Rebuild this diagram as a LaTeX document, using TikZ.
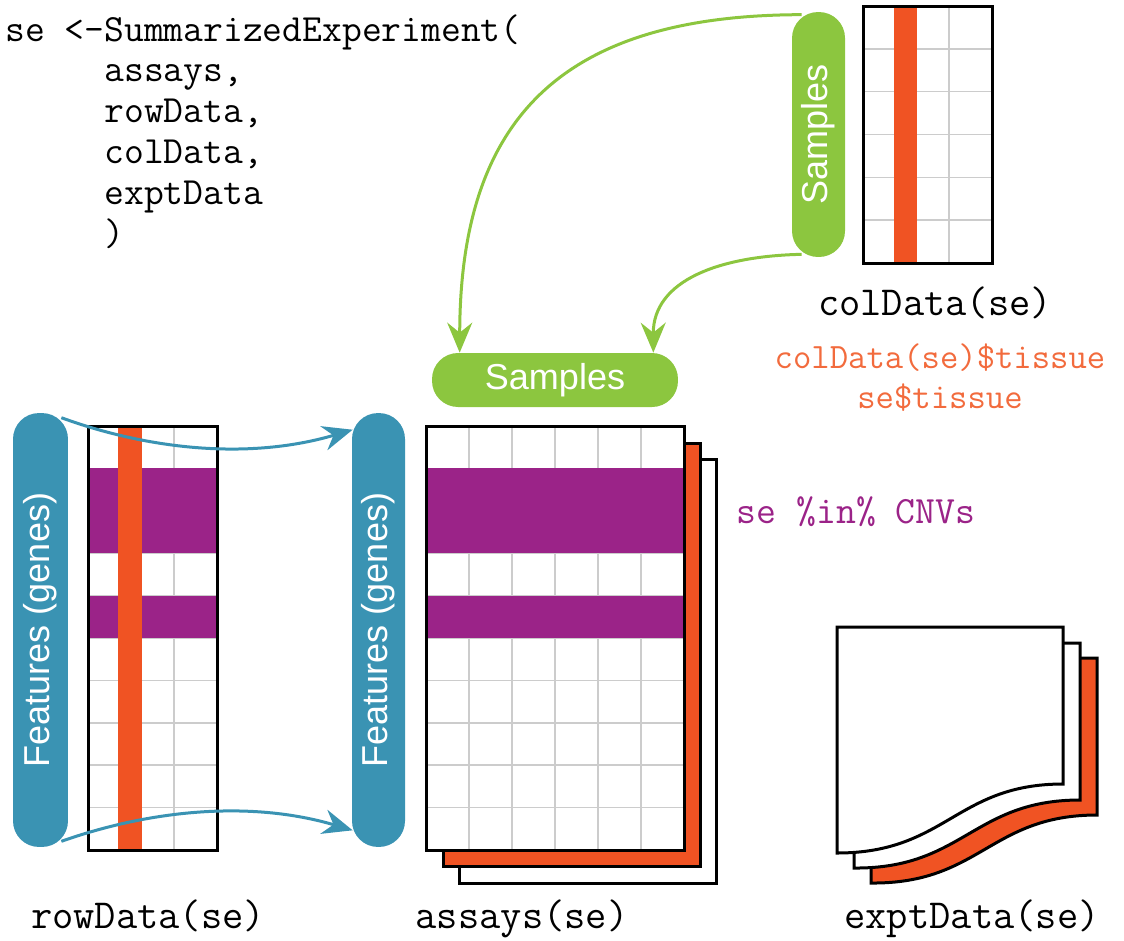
\documentclass[tikz,border=0pt]{standalone}
\usepackage{fontspec}
\setmainfont{Liberation Sans}
\setsansfont{Liberation Sans}
\usepackage{tikz}
\usetikzlibrary{arrows.meta, calc}
\usepackage{xcolor}

\definecolor{pillgreen}{HTML}{8CC63F}
\definecolor{featblue}{HTML}{3A93B3}
\definecolor{tissueorange}{HTML}{F05323}
\definecolor{tissuetext}{HTML}{F26B3D}
\definecolor{cnvpurple}{HTML}{9B2388}
\definecolor{gridgrey}{HTML}{CCCCCC}

\pgfdeclarelayer{front}
\pgfsetlayers{main,front}

\begin{document}
\begin{tikzpicture}[
    x=0.02cm, y=-0.02cm,
    >={Stealth[length=0.6cm, width=0.5cm, inset=0.2cm]},
    gridline/.style={draw=gridgrey, line width=0.03cm},
    boxline/.style={draw=black, line width=0.06cm},
    pill/.style={rounded corners=0.52cm, inner sep=0pt, text=white,
        font=\fontsize{20.5}{24}\selectfont\sffamily},
    codetext/.style={inner sep=0pt, font=\fontsize{21.9}{23.3}\selectfont\ttfamily},
    label/.style={inner sep=0pt, font=\fontsize{23.5}{26}\selectfont\ttfamily},
    link/.style={->, line width=0.06cm}
]
\useasboundingbox (0,0) rectangle (1124,940);

% the constructor call
\node[codetext, anchor=north west, align=left] (call) at (5,14)
    {se <-SummarizedExperiment(\\
     \phantom{se <-}assays,\\
     \phantom{se <-}rowData,\\
     \phantom{se <-}colData,\\
     \phantom{se <-}exptData\\
     \phantom{se <-})};

% colData
\fill[white] (863,6) rectangle (992,263);
\foreach \r in {1,...,5}
    \draw[gridline] (863,{6+\r*42.83}) -- (992,{6+\r*42.83});
\foreach \c in {1,2}
    \draw[gridline] ({863+\c*43},6) -- ({863+\c*43},263);
\fill[tissueorange] (894,6) rectangle (917,263);
\draw[boxline] (863,6) rectangle (992,263);

% rowData
\fill[white] (88,426) rectangle (217,850);
\foreach \r in {1,...,9}
    \draw[gridline] (88,{426+\r*42.4}) -- (217,{426+\r*42.4});
\foreach \c in {1,2}
    \draw[gridline] ({88+\c*43},426) -- ({88+\c*43},850);
\fill[cnvpurple] (88,468.4) rectangle (217,553.2);
\fill[cnvpurple] (88,595.6) rectangle (217,638);
\fill[tissueorange] (118,426) rectangle (142,850);
\draw[boxline] (88,426) rectangle (217,850);

% assays, three sheets
\draw[boxline, fill=white] (459,459) rectangle (716,883);
\draw[boxline, fill=tissueorange] (443,443) rectangle (700,866);
\fill[white] (426,426) rectangle (684,850);
\foreach \r in {1,...,9}
    \draw[gridline] (426,{426+\r*42.4}) -- (684,{426+\r*42.4});
\foreach \c in {1,...,5}
    \draw[gridline] ({426+\c*43},426) -- ({426+\c*43},850);
\fill[cnvpurple] (426,468.4) rectangle (684,553.2);
\fill[cnvpurple] (426,595.6) rectangle (684,638);
\draw[boxline] (426,426) rectangle (684,850);

% exptData, curled sheets
\draw[boxline, fill=tissueorange] (871,658) -- (1097,658) -- (1097,815)
    .. controls (990,815) and (980,884) .. (871,883) -- cycle;
\draw[boxline, fill=white] (854,643) -- (1080,643) -- (1080,800)
    .. controls (973,800) and (963,869) .. (854,868) -- cycle;
\draw[boxline, fill=white] (837,627) -- (1063,627) -- (1063,784)
    .. controls (956,784) and (946,853) .. (837,853) -- cycle;

% pills
\begin{pgfonlayer}{front}
\node[pill, fill=pillgreen, rotate=90, minimum width=4.9cm, minimum height=1.06cm]
    (vs) at (818.5,134.5) {Samples};
\node[pill, fill=pillgreen, minimum width=4.92cm, minimum height=1.08cm]
    (hs) at (555,380) {Samples};
\node[pill, fill=featblue, rotate=90, minimum width=8.68cm, minimum height=1.1cm]
    (fl) at (40.5,630) {Features (genes)};
\node[pill, fill=featblue, rotate=90, minimum width=8.68cm, minimum height=1.06cm]
    (fr) at (378.5,630) {Features (genes)};
\end{pgfonlayer}

% labels
\node[label] (coldata) at (935,303) {colData(se)};
\node[label, text=tissuetext, font=\fontsize{20.3}{24}\selectfont\ttfamily]
    (tissue1) at (940,358) {colData(se)\$tissue};
\node[label, text=tissuetext, font=\fontsize{20.3}{24}\selectfont\ttfamily]
    (tissue2) at (940,398) {se\$tissue};
\node[label, text=cnvpurple, font=\fontsize{22}{26}\selectfont\ttfamily]
    (cnvs) at (856,512) {se \%in\% CNVs};
\node[label, anchor=base] (rowdata) at (148,928) {rowData(se)};
\node[label, anchor=base] (assays) at (522,928) {assays(se)};
\node[label, anchor=base] (exptdata) at (972,928) {exptData(se)};

% connectors
\draw[link, pillgreen] ($(vs.north east)+(10,3)$)
    .. controls (560,15) and (460,120) .. ($(hs.north west)+(28,0)$);
\draw[link, pillgreen] ($(vs.north west)+(10,-3)$)
    .. controls (720,256) and (653,280) .. ($(hs.north east)+(-25,0)$);
\draw[link, featblue] ($(fl.south east)+(-7,5)$)
    .. controls (150,450) and (250,460) .. ($(fr.north east)+(1,17)$);
\draw[link, featblue] ($(fl.south west)+(-7,-6)$)
    .. controls (150,810) and (250,800) .. ($(fr.north west)+(1,-17)$);

\end{tikzpicture}
\end{document}
